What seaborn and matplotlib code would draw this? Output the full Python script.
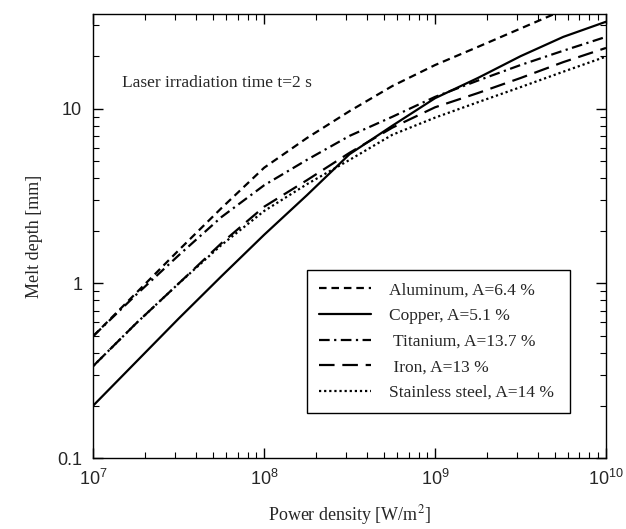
import numpy as np
import pandas as pd
import matplotlib
matplotlib.use("Agg")
import matplotlib.pyplot as plt
import matplotlib.ticker as mticker
import seaborn as sns

# ------------------------------------------
# data (log-log chart)
# ------------------------------------------
power_density = [1e7, 10**7.25, 10**7.5, 10**7.75, 1e8, 10**8.25, 10**8.5,
                 10**8.75, 1e9, 10**9.25, 10**9.5, 10**9.75, 1e10]

aluminum = [0.50, 0.88, 1.55, 2.7, 4.6, 6.8, 9.7, 13.5, 17.8, 22.6, 28.8, 36.7, 46.0]
copper = [0.20, 0.355, 0.63, 1.1, 1.9, 3.2, 5.5, 8.0, 11.5, 15.0, 20.0, 25.8, 31.5]
titanium = [0.50, 0.86, 1.45, 2.4, 3.65, 5.1, 7.0, 9.0, 11.7, 14.5, 17.8, 21.5, 25.8]
iron = [0.337, 0.59, 1.0, 1.7, 2.75, 3.9, 5.6, 7.8, 10.2, 12.3, 15.0, 18.5, 22.3]
stainless = [0.337, 0.59, 1.0, 1.66, 2.6, 3.7, 5.1, 7.1, 8.9, 10.9, 13.3, 16.3, 19.9]

labels = ["Aluminum, A=6.4 %", "Copper, A=5.1 %", " Titanium, A=13.7 %",
          " Iron, A=13 %", "Stainless steel, A=14 %"]
series = [aluminum, copper, titanium, iron, stainless]

df = pd.concat(
    [pd.DataFrame({"power": power_density, "depth": vals, "material": lab})
     for lab, vals in zip(labels, series)],
    ignore_index=True,
)

sns.set_style("ticks")
plt.rcParams['font.family'] = ['Liberation Serif', 'DejaVu Serif']
plt.rcParams['mathtext.fontset'] = 'custom'
plt.rcParams['mathtext.rm'] = 'Liberation Sans'
plt.rcParams['mathtext.it'] = 'Liberation Sans:italic'

fig, ax = plt.subplots(figsize=(6.26, 5.29), dpi=100)
fig.subplots_adjust(left=0.149, right=0.968, top=0.974, bottom=0.134)

dash_map = {
    labels[0]: (3.4, 2.2),
    labels[1]: "",
    labels[2]: (4.8, 2.0, 1.0, 2.0),
    labels[3]: (7.0, 3.5),
    labels[4]: (1.0, 1.3),
}

sns.lineplot(
    data=df, x="power", y="depth",
    hue="material", style="material",
    hue_order=labels, style_order=labels,
    palette=["black"] * 5, dashes=dash_map,
    linewidth=1.6, ax=ax,
)

ax.set_xscale("log")
ax.set_yscale("log")
ax.set_xlim(1e7, 1e10)
ax.set_ylim(0.1, 35)

ax.yaxis.set_major_formatter(mticker.FuncFormatter(lambda v, _: f"{v:g}"))
ax.yaxis.set_minor_formatter(mticker.NullFormatter())
ax.xaxis.set_minor_formatter(mticker.NullFormatter())
ax.tick_params(which="both", direction="in", top=True, right=True, color="black")
ax.tick_params(which="major", length=7, width=1)
ax.tick_params(which="minor", length=4, width=0.8)
for lab in ax.get_xticklabels() + ax.get_yticklabels():
    lab.set_family(['Liberation Sans', 'DejaVu Sans'])
ax.tick_params(labelsize=13, pad=8)

for sp in ax.spines.values():
    sp.set_color("black")
    sp.set_linewidth(1.0)

ax.set_xlabel("Power density [W/m$^2$]", fontsize=13, labelpad=10)
ax.set_ylabel("Melt depth [mm]", fontsize=13, labelpad=10)
ax.xaxis.label.set_math_fontfamily('stix')

ax.text(0.057, 0.845, "Laser irradiation time t=2 s", transform=ax.transAxes,
        fontsize=12.5, va="center", ha="left")

handles, labs = ax.get_legend_handles_labels()
leg = ax.legend(handles, labs, loc="lower left",
                bbox_to_anchor=(0.417, 0.101, 0.513, 0.325), mode="expand",
                fontsize=12.5, frameon=True, fancybox=False, framealpha=1,
                edgecolor="black", handlelength=3.0, handletextpad=1.0,
                borderpad=0.7, labelspacing=0.55, borderaxespad=0)
leg.get_frame().set_linewidth(1.0)

fig.savefig("out.png", dpi=100)
